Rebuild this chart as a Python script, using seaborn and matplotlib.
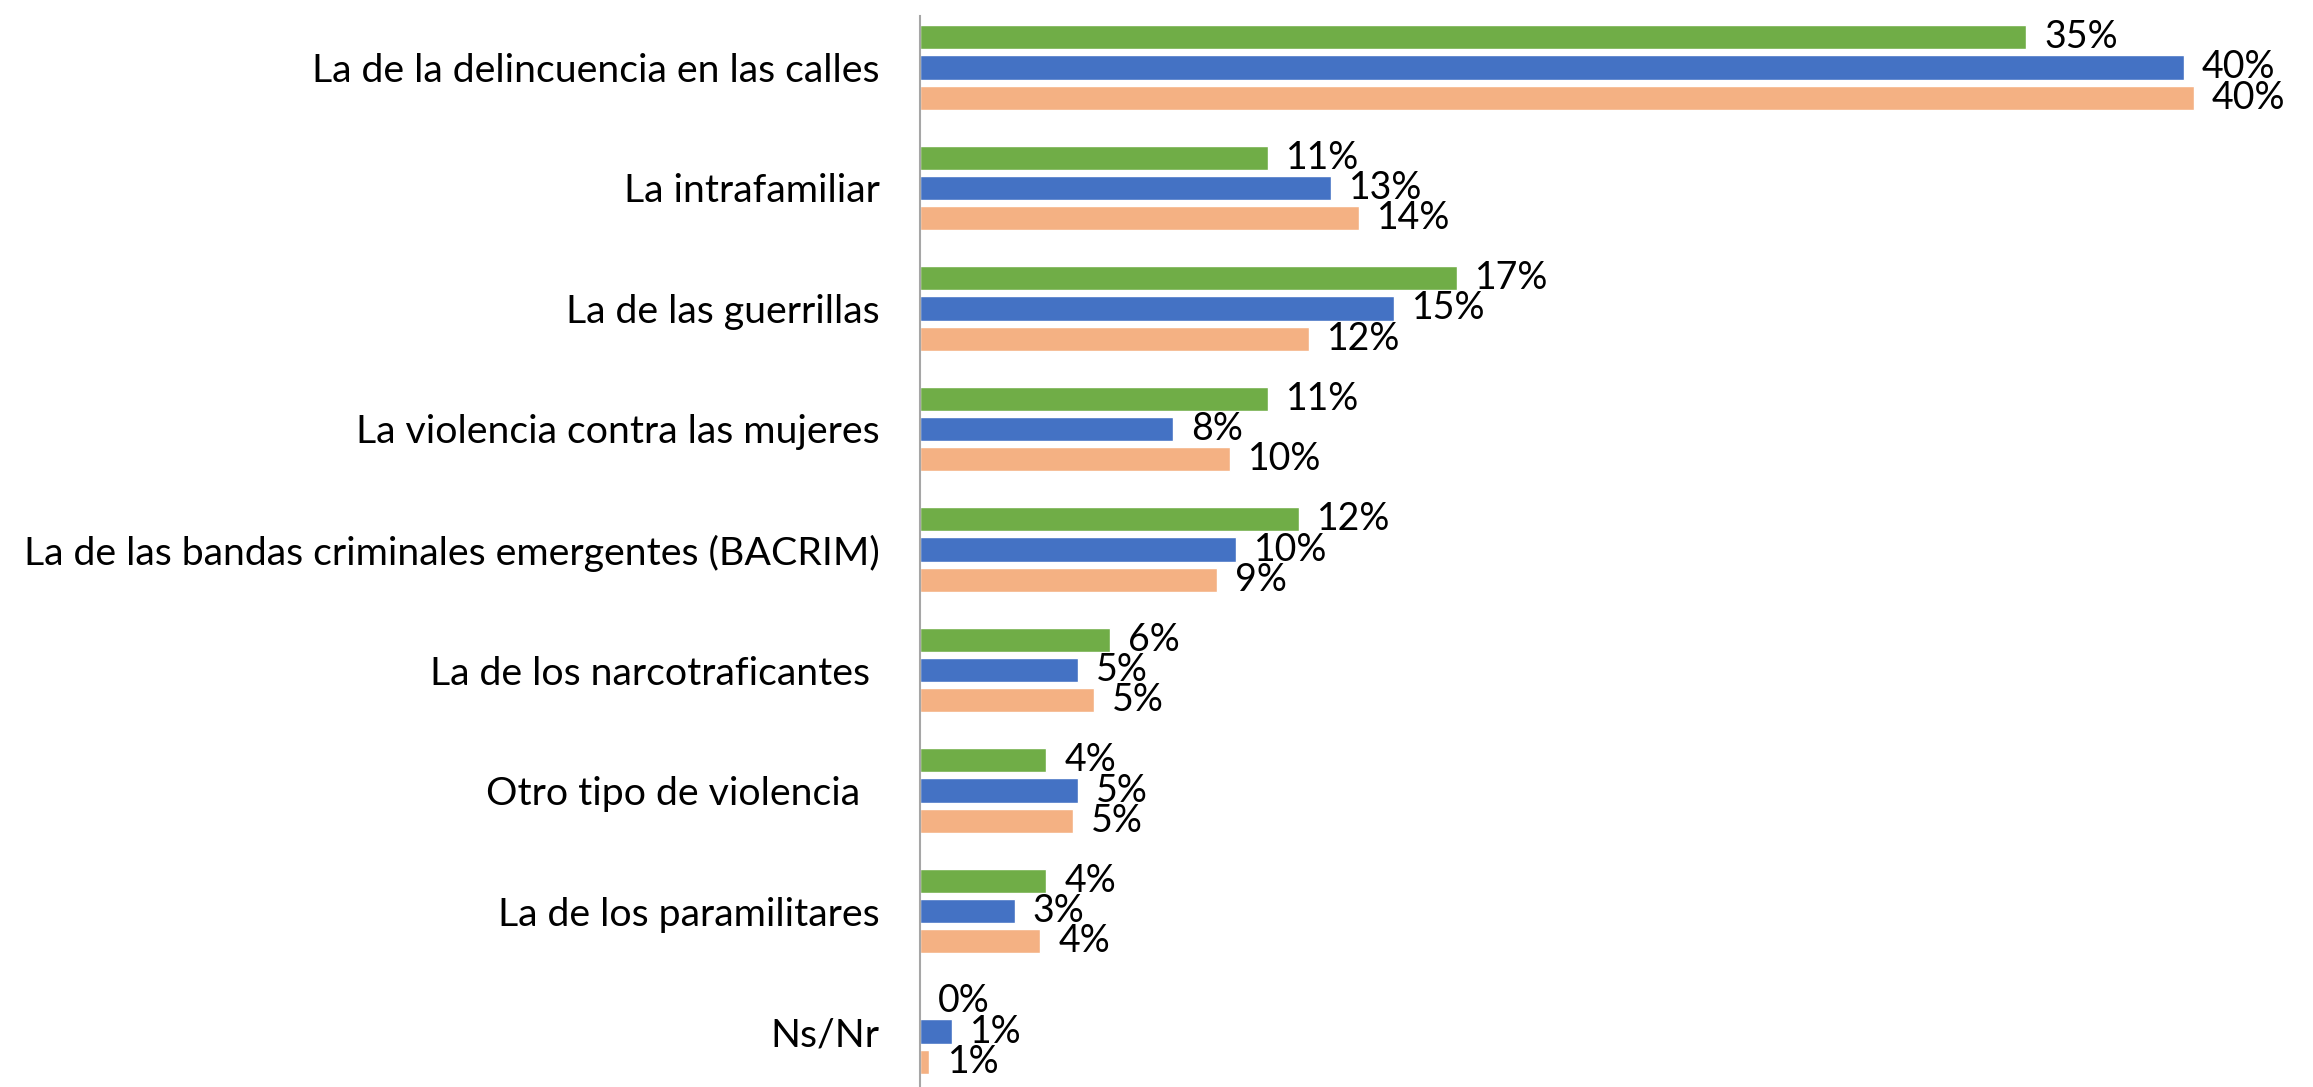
import matplotlib
matplotlib.use("Agg")
import matplotlib.pyplot as plt
import pandas as pd
import seaborn as sns

# categories (trailing spaces kept as in the source chart)
categorias = [
    "La de la delincuencia en las calles",
    "La intrafamiliar",
    "La de las guerrillas",
    "La violencia contra las mujeres",
    "La de las bandas criminales emergentes (BACRIM)",
    "La de los narcotraficantes ",
    "Otro tipo de violencia  ",
    "La de los paramilitares",
    "Ns/Nr",
]
series = ["Serie 1", "Serie 2", "Serie 3"]

# values (%)
serie_verde = [35.0, 11.0, 17.0, 11.0, 12.0, 6.0, 4.0, 4.0, 0.0]
serie_azul = [40.0, 13.0, 15.0, 8.0, 10.0, 5.0, 5.0, 3.0, 1.0]
serie_naranja = [40.3, 13.9, 12.3, 9.8, 9.4, 5.5, 4.85, 3.8, 0.3]

# data labels as printed on the chart
etiq_verde = ["35%", "11%", "17%", "11%", "12%", "6%", "4%", "4%", "0%"]
etiq_azul = ["40%", "13%", "15%", "8%", "10%", "5%", "5%", "3%", "1%"]
etiq_naranja = ["40%", "14%", "12%", "10%", "9%", "5%", "5%", "4%", "1%"]

colores = ["#70AD47", "#4472C4", "#F4B183"]

rows = []
for serie, vals in zip(series, [serie_verde, serie_azul, serie_naranja]):
    for cat, v in zip(categorias, vals):
        rows.append({"categoria": cat, "serie": serie, "valor": v})
df = pd.DataFrame(rows)

sns.set_theme(style="white")
plt.rcParams["font.family"] = ["Lato", "DejaVu Sans"]

W, H = 2313, 1087
fig = plt.figure(figsize=(W / 100, H / 100), dpi=100)
ax = fig.add_axes([920 / W, 0, 1 - 920 / W, (H - 16) / H])

sns.barplot(
    data=df,
    x="valor",
    y="categoria",
    hue="serie",
    order=categorias,
    hue_order=series,
    palette=colores,
    orient="h",
    width=0.754,
    gap=0.2,
    errorbar=None,
    legend=False,
    saturation=1,
    ax=ax,
)

for cont, etiq in zip(ax.containers, [etiq_verde, etiq_azul, etiq_naranja]):
    ax.bar_label(cont, labels=etiq, padding=13, fontsize=27, color="black")

ax.set_xlim(0, 44.08)
ax.set_ylim(8.46, -0.427)
ax.set_xlabel("")
ax.set_ylabel("")
ax.set_xticks([])
ax.tick_params(axis="y", length=0, pad=29, labelsize=28.3, labelcolor="black")

for side in ["top", "right", "bottom"]:
    ax.spines[side].set_visible(False)
ax.spines["left"].set_color("#A6A6A6")
ax.spines["left"].set_linewidth(1.5)

fig.savefig("out.png", dpi=100)
